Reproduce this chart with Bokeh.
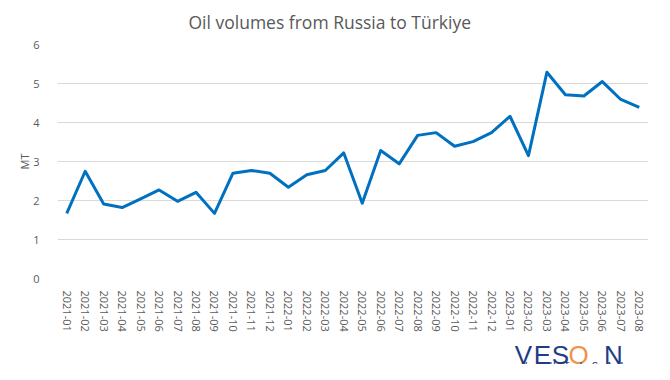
from bokeh.plotting import figure
from bokeh.layouts import column
from bokeh.models import FixedTicker, Range1d, Label
from bokeh.embed import file_html
from bokeh.resources import INLINE

months = ["2021-01", "2021-02", "2021-03", "2021-04", "2021-05", "2021-06", "2021-07", "2021-08",
          "2021-09", "2021-10", "2021-11", "2021-12", "2022-01", "2022-02", "2022-03", "2022-04",
          "2022-05", "2022-06", "2022-07", "2022-08", "2022-09", "2022-10", "2022-11", "2022-12",
          "2023-01", "2023-02", "2023-03", "2023-04", "2023-05", "2023-06", "2023-07", "2023-08"]
volumes = [1.67, 2.75, 1.91, 1.82, 2.04, 2.27, 1.98, 2.21,
           1.67, 2.70, 2.77, 2.70, 2.34, 2.66, 2.77, 3.22,
           1.93, 3.28, 2.94, 3.67, 3.74, 3.39, 3.51, 3.74,
           4.16, 3.15, 5.29, 4.71, 4.68, 5.05, 4.59, 4.39]
y_ticks = [0, 1, 2, 3, 4, 5, 6]

GRAY = "#595959"
NAVY = "#1f3d87"
ORANGE = "#f39149"

p = figure(x_range=months, y_range=Range1d(0, 6), width=654, height=334,
           output_backend="svg", toolbar_location=None,
           title="Oil volumes from Russia to Türkiye",
           min_border_left=57, min_border_right=6, min_border_top=44, min_border_bottom=56)

p.title.align = "left"
p.title.offset = 131
p.title.standoff = 18
p.title.vertical_align = "top"
p.title.text_line_height = 0.9
p.title.text_font = "Open Sans"
p.title.text_font_size = "17.5px"
p.title.text_font_style = "normal"
p.title.text_color = GRAY

p.line(months, volumes, line_color="#0070c0", line_width=3, line_join="round")

p.outline_line_color = None
p.xgrid.grid_line_color = None
p.ygrid.grid_line_color = "#d9d9d9"
p.ygrid.grid_line_width = 1

p.yaxis.ticker = FixedTicker(ticks=y_ticks)
p.yaxis.axis_label = "MT"
p.yaxis.axis_label_text_font = "Open Sans"
p.yaxis.axis_label_text_font_size = "11px"
p.yaxis.axis_label_text_font_style = "normal"
p.yaxis.axis_label_text_color = GRAY
p.yaxis.axis_label_standoff = -2

for ax in (p.xaxis[0], p.yaxis[0]):
    ax.axis_line_color = None
    ax.major_tick_line_color = None
    ax.minor_tick_line_color = None
    ax.major_label_text_font = "Open Sans"
    ax.major_label_text_color = GRAY

p.yaxis.major_label_text_font_size = "11px"
p.yaxis.major_label_standoff = 12
p.xaxis.major_label_text_font_size = "11px"
p.xaxis.major_label_orientation = "vertical"
p.xaxis.major_label_standoff = 6

# logo strip below the chart (its frame lines up with the chart frame: 57..648)
logo = figure(width=654, height=30, x_range=Range1d(0, 1), y_range=Range1d(0, 1),
              title=None, output_backend="svg", toolbar_location=None,
              x_axis_type=None, y_axis_type=None,
              min_border_left=57, min_border_right=6, min_border_top=0, min_border_bottom=0)
logo.outline_line_color = None
logo.xgrid.grid_line_color = None
logo.ygrid.grid_line_color = None

FL = 57
for ch, xx, col in [("V", 523, NAVY), ("E", 542, NAVY), ("S", 560, NAVY),
                    ("O", 578, ORANGE), ("N", 613, NAVY)]:
    logo.add_layout(Label(x=xx - FL, y=10, x_units="screen", y_units="screen", text=ch,
                          text_font="Liberation Sans", text_font_size="26px", text_color=col,
                          text_align="center", text_baseline="alphabetic"))
for i, ch in enumerate("NAUTICAL"):
    logo.add_layout(Label(x=524 + i * 14.1 - FL, y=0, x_units="screen", y_units="screen", text=ch,
                          text_font="Liberation Sans", text_font_size="8px", text_font_style="bold",
                          text_color=NAVY, text_align="center", text_baseline="alphabetic"))

layout = column(p, logo, spacing=0)
open("out.html", "w").write(file_html(layout, INLINE))
